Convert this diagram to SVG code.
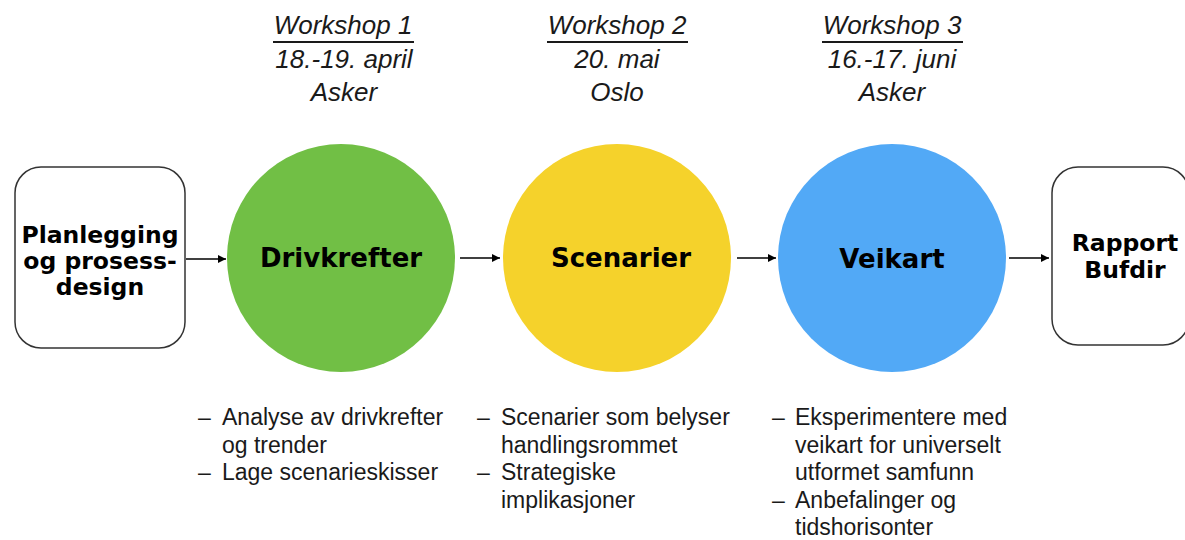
<svg xmlns="http://www.w3.org/2000/svg" width="1185" height="540" viewBox="0 0 1185 540">
<style>
.box{fill:#fff;stroke:#333;stroke-width:1.5}
.lbl{font-family:"DejaVu Sans",Verdana,sans-serif;font-weight:bold;font-size:23.5px;fill:#000;text-anchor:middle}
.clbl{font-family:"DejaVu Sans",Verdana,sans-serif;font-weight:bold;font-size:26px;fill:#000;text-anchor:middle}
.ws{font-family:"Liberation Sans",Arial,sans-serif;font-style:italic;font-size:26px;fill:#1a1a1a;text-anchor:middle}
.bl{font-family:"Liberation Sans",Arial,sans-serif;font-size:23px;fill:#1a1a1a}
.conn{stroke:#000;stroke-width:1.5;fill:none;marker-end:url(#ah)}
.ul{stroke:#1a1a1a;stroke-width:2}
</style>
<defs>
<marker id="ah" viewBox="0 0 10 10" refX="10" refY="5" markerWidth="10" markerHeight="8" markerUnits="userSpaceOnUse" orient="auto">
<path d="M0,0 L10,5 L0,10 z" fill="#000"/>
</marker>
</defs>
<g id="workshop1">
<text class="ws" x="343" y="34">Workshop 1</text>
<line class="ul" x1="273" y1="42" x2="414" y2="42"/>
<text class="ws" x="344" y="68">18.-19. april</text>
<text class="ws" x="344" y="101">Asker</text>
</g>
<g id="workshop2">
<text class="ws" x="617" y="34">Workshop 2</text>
<line class="ul" x1="547" y1="42" x2="688" y2="42"/>
<text class="ws" x="617" y="68">20. mai</text>
<text class="ws" x="617" y="101">Oslo</text>
</g>
<g id="workshop3">
<text class="ws" x="892" y="34">Workshop 3</text>
<line class="ul" x1="822" y1="42" x2="963" y2="42"/>
<text class="ws" x="892" y="68">16.-17. juni</text>
<text class="ws" x="892" y="101">Asker</text>
</g>
<g id="connectors">
<line class="conn" x1="186" y1="259" x2="226" y2="259"/>
<line class="conn" x1="460" y1="258" x2="500" y2="258"/>
<line class="conn" x1="737" y1="258" x2="776" y2="258"/>
<line class="conn" x1="1009" y1="258" x2="1049" y2="258"/>
</g>
<g id="planlegging">
<rect class="box" x="15" y="167" width="170" height="181" rx="26" ry="26"/>
<text class="lbl" x="100" y="243">Planlegging</text>
<text class="lbl" x="100" y="269">og prosess-</text>
<text class="lbl" x="100" y="295">design</text>
</g>
<g id="drivkrefter">
<circle cx="341" cy="258" r="114" fill="#71BF45"/>
<text class="clbl" x="341" y="267">Drivkrefter</text>
</g>
<g id="scenarier">
<circle cx="617" cy="258" r="114" fill="#F5D22B"/>
<text class="clbl" x="621" y="267">Scenarier</text>
</g>
<g id="veikart">
<circle cx="892" cy="258" r="114" fill="#52A9F6"/>
<text class="clbl" x="892" y="268">Veikart</text>
</g>
<g id="rapport">
<rect class="box" x="1052" y="167" width="137" height="178" rx="26" ry="26"/>
<text class="lbl" x="1125" y="251">Rapport</text>
<text class="lbl" x="1125" y="278">Bufdir</text>
</g>
<g id="bullets1">
<text class="bl" x="198" y="425">–</text>
<text class="bl" x="222" y="425">Analyse av drivkrefter</text>
<text class="bl" x="222" y="453">og trender</text>
<text class="bl" x="198" y="480">–</text>
<text class="bl" x="222" y="480">Lage scenarieskisser</text>
</g>
<g id="bullets2">
<text class="bl" x="477" y="425">–</text>
<text class="bl" x="501" y="425">Scenarier som belyser</text>
<text class="bl" x="501" y="453">handlingsrommet</text>
<text class="bl" x="477" y="480">–</text>
<text class="bl" x="501" y="480">Strategiske</text>
<text class="bl" x="501" y="508">implikasjoner</text>
</g>
<g id="bullets3">
<text class="bl" x="772" y="425">–</text>
<text class="bl" x="795" y="425">Eksperimentere med</text>
<text class="bl" x="795" y="453">veikart  for universelt</text>
<text class="bl" x="795" y="480">utformet samfunn</text>
<text class="bl" x="772" y="508">–</text>
<text class="bl" x="795" y="508">Anbefalinger og</text>
<text class="bl" x="795" y="535">tidshorisonter</text>
</g>
</svg>
